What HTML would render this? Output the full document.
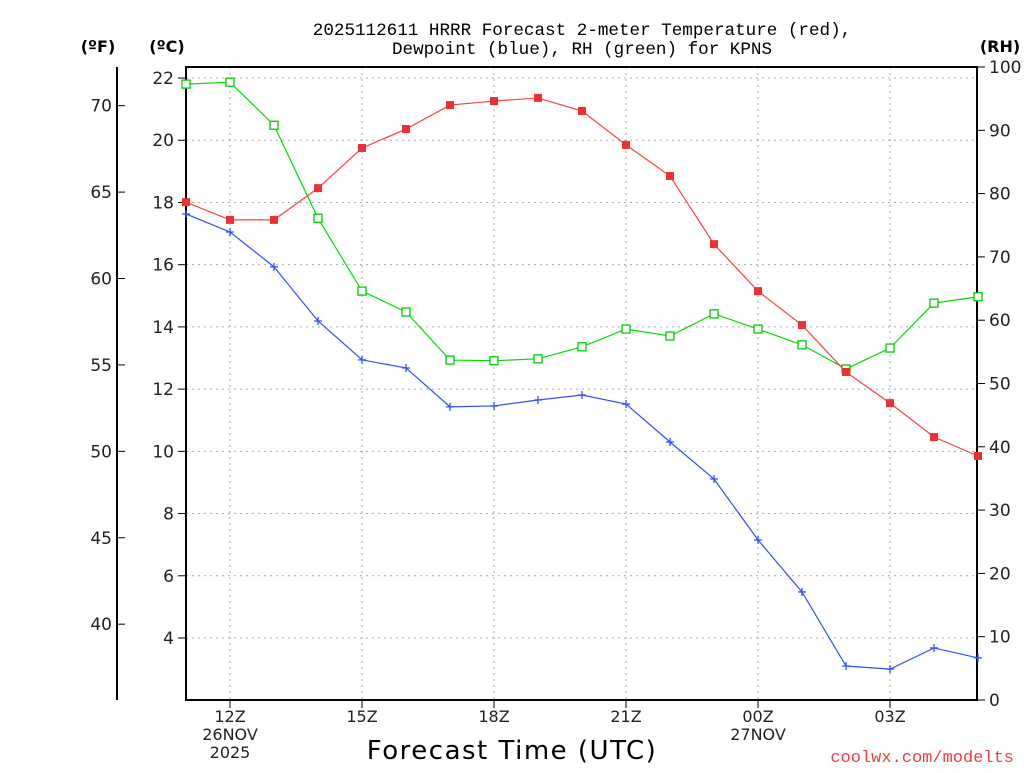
<!DOCTYPE html>
<html><head><meta charset="utf-8"><style>
body{margin:0;background:#fff;width:1024px;height:768px;overflow:hidden}
text{font-family:"DejaVu Sans","Liberation Sans",sans-serif}
.mono{font-family:"Liberation Mono","DejaVu Sans Mono",monospace}
</style></head><body>
<svg id="chart" width="1024" height="768" xmlns="http://www.w3.org/2000/svg">
<text class="mono" x="582" y="35" font-size="17.6" text-anchor="middle">2025112611 HRRR Forecast 2-meter Temperature (red),</text>
<text class="mono" x="582" y="54" font-size="17.6" text-anchor="middle">Dewpoint (blue), RH (green) for KPNS</text>
<text x="98" y="52" font-size="16" font-weight="bold" text-anchor="middle">(ºF)</text>
<text x="167" y="52" font-size="16" font-weight="bold" text-anchor="middle">(ºC)</text>
<text x="1000" y="52" font-size="16" font-weight="bold" text-anchor="middle">(RH)</text>
<text x="512" y="759" font-size="26" text-anchor="middle" letter-spacing="1.5">Forecast Time (UTC)</text>
<text class="mono" x="1014" y="762" font-size="17" fill="#f04040" text-anchor="end">coolwx.com/modelts</text>
<g id="grid"></g><g id="axes"></g><g id="series"></g>
</svg>
<script>
const hours=[11,12,13,14,15,16,17,18,19,20,21,22,23,24,25,26,27,28,29];
const tempC=[18.01,17.44,17.44,18.46,19.75,20.36,21.13,21.26,21.36,20.94,19.85,18.85,16.66,15.15,14.06,12.55,11.55,10.46,9.85];
const dewC=[17.63,17.05,15.93,14.19,12.94,12.68,11.43,11.46,11.65,11.81,11.52,10.30,9.11,7.15,5.48,3.1,3.0,3.68,3.36];
const rh=[97.3,97.6,90.8,76.1,64.6,61.3,53.7,53.6,53.9,55.8,58.6,57.5,61.0,58.6,56.1,52.3,55.6,62.7,63.7];
const cTicks=[4,6,8,10,12,14,16,18,20,22];
const fTicks=[40,45,50,55,60,65,70];
const rhTicks=[0,10,20,30,40,50,60,70,80,90,100];
const xTickHours=[12,15,18,21,24,27];
const xTickLabels=[["12Z","26NOV","2025"],["15Z"],["18Z"],["21Z"],["00Z","27NOV"],["03Z"]];
const L=186,R=977,T=67,B=700;
const xs=h=>L+(h-11)*44;
const yc=c=>638-(c-4)*31.11;
const yf=f=>yc((f-32)*5/9);
const yr=v=>B-v*(B-T)/100;
const NS="http://www.w3.org/2000/svg";
function mk(p,tag,a,txt){const e=document.createElementNS(NS,tag);for(const k in a)e.setAttribute(k,a[k]);if(txt!==undefined)e.textContent=txt;p.appendChild(e);return e;}
const G=document.getElementById('grid'),A=document.getElementById('axes'),S=document.getElementById('series');
cTicks.forEach(c=>{const y=yc(c);
 const g=mk(G,'line',{x1:L,x2:R,y1:y,y2:y,stroke:'#aaa','stroke-dasharray':'2,4'});
 
 mk(A,'line',{x1:L-8,x2:L,y1:y,y2:y,stroke:'#000'});
 const t=mk(A,'text',{x:L-12,y:y+6,'font-size':17,'text-anchor':'end',fill:'#222'},c);
 });
xTickHours.forEach((h,i)=>{const x=xs(h);
 const g=mk(G,'line',{x1:x,x2:x,y1:T,y2:B,stroke:'#aaa','stroke-dasharray':'2,4'});
 
 mk(A,'line',{x1:x,x2:x,y1:B,y2:B+8,stroke:'#000'});
 xTickLabels[i].forEach((s,j)=>{const t=mk(A,'text',{x:x,y:B+22+j*18,'font-size':16,'text-anchor':'middle',fill:'#222'},s);
  });});
fTicks.forEach(f=>{const y=yf(f);
 mk(A,'line',{x1:117,x2:125,y1:y,y2:y,stroke:'#000'});
 const t=mk(A,'text',{x:112,y:y+6,'font-size':17,'text-anchor':'end',fill:'#222'},f);
 });
mk(A,'line',{x1:117,x2:117,y1:T,y2:B,stroke:'#000','stroke-width':2});
rhTicks.forEach(v=>{const y=yr(v);
 mk(A,'line',{x1:R,x2:R+8,y1:y,y2:y,stroke:'#000'});
 const t=mk(A,'text',{x:R+12,y:y+6,'font-size':17,fill:'#222'},v);
 });
const fr=mk(A,'rect',{x:L,y:T,width:R-L,height:B-T,fill:'none',stroke:'#000','stroke-width':2});

function line(vals,yfn,col,name){const pl=mk(S,'polyline',{points:vals.map((v,i)=>xs(hours[i])+','+yfn(v)).join(' '),fill:'none',stroke:col,'stroke-width':1.2});
 }
line(rh,yr,'#00dd00','rh');line(tempC,yc,'#ff4040','temperature');line(dewC,yc,'#3050ff','dewpoint');
rh.forEach((v,i)=>{const m=mk(S,'rect',{x:xs(hours[i])-4,y:yr(v)-4,width:8,height:8,fill:'#fff',stroke:'#00cc00','stroke-width':1.3});
 });
tempC.forEach((v,i)=>{const m=mk(S,'rect',{x:xs(hours[i])-4,y:yc(v)-4,width:8,height:8,fill:'#f03030'});
 });
dewC.forEach((v,i)=>{const x=xs(hours[i]),y=yc(v);
 const m=mk(S,'path',{d:`M${x-4},${y}H${x+4}M${x},${y-4}V${y+4}`,stroke:'#3050ff','stroke-width':1.3});
 });
</script>
</body></html>
